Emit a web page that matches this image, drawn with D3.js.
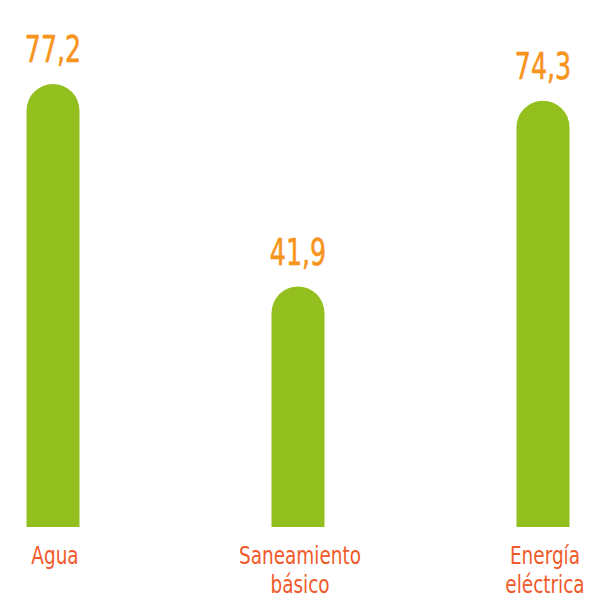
<!DOCTYPE html>
<html>
<head>
<meta charset="utf-8">
<script src="https://cdn.jsdelivr.net/npm/d3@7"></script>
<style>
  html, body { margin: 0; padding: 0; background: #fff; }
  svg { display: block; }
</style>
</head>
<body>
<svg id="chart"></svg>
<script>
// data
const categories = ['Agua', 'Saneamiento básico', 'Energía eléctrica']
const labelLines = [['Agua'], ['Saneamiento', 'básico'], ['Energía', 'eléctrica']]
const values = [77.2, 41.9, 74.3]
const valueLabels = ['77,2', '41,9', '74,3']

const width = 596
const height = 601
const baseline = 527 // bottom of the bars
const barWidth = 53
const green = '#93c01f'
const orange = '#f7941d'
const red = '#f15a2b'
const font = '"DejaVu Sans Condensed", "Liberation Sans Narrow", sans-serif'

const x = d3.scalePoint(categories, [53, 543])
const y = d3.scaleLinear([0, 80], [baseline, 68])

const svg = d3.select('#chart')
    .attr('width', width)
    .attr('height', height)
    .attr('viewBox', [0, 0, width, height])

// bar with a rounded top, flat bottom
function barPath(cx, top) {
  const r = barWidth / 2
  const x0 = cx - r, x1 = cx + r
  return `M${x0},${baseline} L${x0},${top + r} A${r},${r} 0 0 1 ${x1},${top + r} L${x1},${baseline} Z`
}

svg.append('g')
  .selectAll('path')
  .data(categories)
  .join('path')
    .attr('fill', green)
    .attr('d', (d, i) => barPath(x(d), y(values[i])))

// value labels, squeezed to look like the condensed face of the original
svg.append('g')
  .selectAll('text')
  .data(categories)
  .join('text')
    .attr('transform', (d, i) => `translate(${x(d)},${y(values[i]) - 22}) scale(0.76,1)`)
    .attr('text-anchor', 'middle')
    .attr('fill', orange)
    .attr('stroke', orange)
    .attr('stroke-width', 0.6)
    .attr('font-family', font)
    .attr('font-size', 37)
    .text((d, i) => valueLabels[i])

// category labels, one text per line
svg.append('g')
  .selectAll('g')
  .data(categories)
  .join('g')
    .attr('transform', d => `translate(${x(d) + 2},0)`)
  .selectAll('text')
  .data((d, i) => labelLines[i])
  .join('text')
    .attr('transform', (d, i) => `translate(0,${564 + i * 29}) scale(0.82,1)`)
    .attr('text-anchor', 'middle')
    .attr('fill', red)
    .attr('font-family', font)
    .attr('font-size', 25)
    .text(d => d)
</script>
</body>
</html>
